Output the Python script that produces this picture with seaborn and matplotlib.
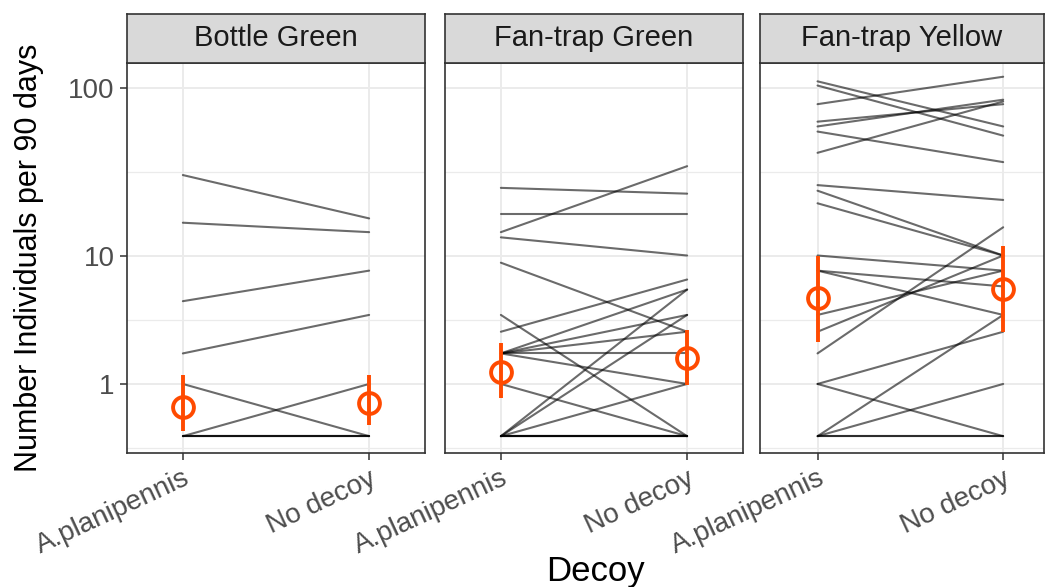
import numpy as np
import pandas as pd
import matplotlib
matplotlib.use("Agg")
import matplotlib.pyplot as plt
import seaborn as sns

# ---------------- data ----------------
facets = ["Bottle Green", "Fan-trap Green", "Fan-trap Yellow"]
decoys = ["A.planipennis", "No decoy"]

bottle_a = [31, 16, 5, 2, 1, 0, 0, 0, 0]
bottle_nd = [17, 14, 8, 4, 0, 1, 0, 0, 0]

fan_green_a = [26, 18, 14, 13, 9, 4, 3, 2, 2, 2, 2, 2, 1, 0, 0, 0, 0, 0, 0, 0]
fan_green_nd = [24, 18, 35, 10, 3, 0, 7, 6, 4, 3, 2, 1, 0, 6, 4, 1, 0, 0, 0, 0]

fan_yellow_a = [110, 104, 81, 64, 60, 56, 42, 27, 25, 21, 10, 8, 8, 4, 3, 2, 1, 1, 0, 0, 0, 0]
fan_yellow_nd = [60, 53, 117, 81, 86, 37, 84, 22, 10, 10, 8, 6.3, 4, 8, 10, 15, 3, 0, 4, 1, 0, 0]

mean_a = [0.48, 1.35, 5.24]
low_a = [0.077, 0.66, 2.5]
high_a = [1.25, 2.43, 10.0]
mean_nd = [0.55, 1.81, 6.1]
low_nd = [0.16, 0.97, 3.0]
high_nd = [1.25, 3.09, 11.4]

y_ticks = [1, 10, 100]
y_tick_labels = ["1", "10", "100"]

pairs = [(bottle_a, bottle_nd), (fan_green_a, fan_green_nd), (fan_yellow_a, fan_yellow_nd)]

rows = []
for f, (a, nd) in zip(facets, pairs):
    for i, (va, vn) in enumerate(zip(a, nd)):
        rows.append({"facet": f, "id": i, "pos": 0, "value": va})
        rows.append({"facet": f, "id": i, "pos": 1, "value": vn})
df = pd.DataFrame(rows)

# ---------------- style ----------------
sns.set_theme(style="white")
plt.rcParams["font.family"] = ["Liberation Sans", "DejaVu Sans"]

ORANGE = "#FF4A00"
GRID = "#EBEBEB"
BORDER = "#333333"


def fwd(y):
    return np.log10(np.clip(np.asarray(y, dtype=float) + 1, 1e-9, None))


def inv(t):
    return 10 ** np.asarray(t, dtype=float) - 1


W, H = 1048, 587
fig = plt.figure(figsize=(W / 100, H / 100), dpi=100)

panel_px = [(127, 425, (-0.30, 1.30)), (445, 743, (-0.30, 1.30)), (760, 1044, (-0.31, 1.22))]
top_px, bot_px = 63, 453
strip_top = 14

tmaj = fwd(np.array(y_ticks))
minor_t = [tmaj[0] - (tmaj[1] - tmaj[0]) / 2, (tmaj[0] + tmaj[1]) / 2, (tmaj[1] + tmaj[2]) / 2]
minor_pos = inv(np.array(minor_t))

for k, (f, (x0, x1, xl)) in enumerate(zip(facets, panel_px)):
    ax = fig.add_axes([x0 / W, 1 - bot_px / H, (x1 - x0) / W, (bot_px - top_px) / H])
    ax.set_yscale("function", functions=(fwd, inv))
    sub = df[df["facet"] == f]
    sns.lineplot(data=sub, x="pos", y="value", units="id", estimator=None,
                 color="black", alpha=0.58, linewidth=1.5, ax=ax, legend=False)
    m = np.array([mean_a[k], mean_nd[k]])
    lo = np.array([low_a[k], low_nd[k]])
    hi = np.array([high_a[k], high_nd[k]])
    ax.errorbar([0, 1], m, yerr=[m - lo, hi - m], fmt="o", mfc="none", mec=ORANGE,
                ecolor=ORANGE, ms=15, mew=2.8, elinewidth=2.8, capsize=0, zorder=5)
    ax.set_ylim(-0.2, 140.6)
    ax.set_xlim(*xl)
    ax.set_xticks([0, 1])
    ax.set_xticklabels(decoys, rotation=25, ha="right", va="top", rotation_mode="anchor",
                       fontsize=20, color="#4D4D4D")
    ax.set_yticks(y_ticks)
    ax.set_yticks(minor_pos, minor=True)
    ax.set_yticklabels(y_tick_labels, fontsize=20, color="#4D4D4D")
    ax.grid(True, which="major", color=GRID, linewidth=1.4)
    ax.grid(True, which="minor", axis="y", color=GRID, linewidth=0.9)
    ax.set_axisbelow(True)
    ax.tick_params(axis="both", which="major", length=5, width=1.1, color=BORDER, pad=4,
                   bottom=True, left=(k == 0), labelleft=(k == 0))
    ax.tick_params(axis="y", which="minor", length=0)
    ax.set_xlabel("")
    ax.set_ylabel("")
    for s in ax.spines.values():
        s.set_color(BORDER)
        s.set_linewidth(1.2)

    sax = fig.add_axes([x0 / W, 1 - top_px / H, (x1 - x0) / W, (top_px - strip_top) / H])
    sax.set_facecolor("#D9D9D9")
    sax.set_xticks([])
    sax.set_yticks([])
    for s in sax.spines.values():
        s.set_color(BORDER)
        s.set_linewidth(1.2)
    sax.text(0.5, 0.5, f, ha="center", va="center",
             fontsize=21, color="#1A1A1A", transform=sax.transAxes)

fig.text(595 / W, 1 - 571 / H, "Decoy", ha="center", va="center", fontsize=25, color="black")
fig.text(29 / W, 1 - 258 / H, "Number Individuals per 90 days", ha="center", va="center",
         rotation=90, fontsize=22, color="black")

fig.savefig("out.png", dpi=100)
